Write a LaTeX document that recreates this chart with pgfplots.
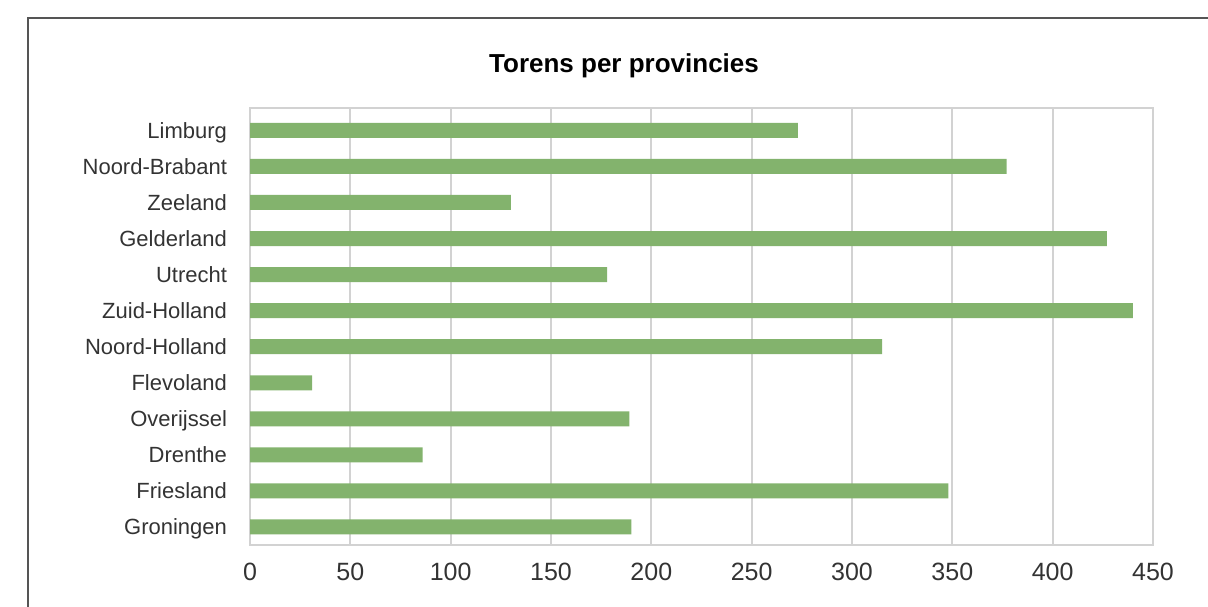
\documentclass[border=0pt]{standalone}
\usepackage{fontspec}
\setmainfont{Liberation Sans}
\usepackage{pgfplots}
\pgfplotsset{compat=1.18}
\definecolor{barfill}{RGB}{131,179,109}
\definecolor{gridc}{RGB}{210,210,210}
\definecolor{txt}{RGB}{51,51,51}
\definecolor{framec}{RGB}{85,85,85}

\begin{document}
\begin{tikzpicture}[x=0.5pt,y=0.5pt]
  \useasboundingbox (0,0) rectangle (1208,606);
  % outer chart frame (cut off at right and bottom in the reference)
  \draw[framec, line width=1pt] (28,-10) -- (28,588) -- (1220,588);
  \node[font=\bfseries\fontsize{13}{15}\selectfont, text=black] at (624,540) {Torens per provincies};

  \begin{axis}[
    at={(125pt,30.5pt)}, anchor=south west,
    width=451.5pt, height=218.5pt, scale only axis,
    xbar, bar width=7.5pt,
    xmin=0, xmax=450, ymin=-0.5, ymax=11.62,
    xtick={0,50,...,450}, ytick={0,...,11},
    yticklabels={Groningen, Friesland, Drenthe, Overijssel, Flevoland,
                 Noord-Holland, Zuid-Holland, Utrecht, Gelderland,
                 Zeeland, Noord-Brabant, Limburg},
    xmajorgrids=true, grid style={gridc, line width=1pt},
    axis line style={gridc, line width=1pt},
    major tick length=0pt,
    /pgf/number format/assume math mode=true,
    xticklabel style={font=\fontsize{12.5}{14}\selectfont, text=txt, yshift=-5.5pt},
    yticklabel style={font=\fontsize{11}{13}\selectfont, text=txt, xshift=-8pt,
                      text height=1.45ex, text depth=0pt},
  ]
    \addplot[fill=barfill, draw=none] coordinates {
      (190,0) (348,1) (86,2) (189,3) (31,4) (315,5)
      (440,6) (178,7) (427,8) (130,9) (377,10) (273,11)
    };
  \end{axis}
\end{tikzpicture}
\end{document}
